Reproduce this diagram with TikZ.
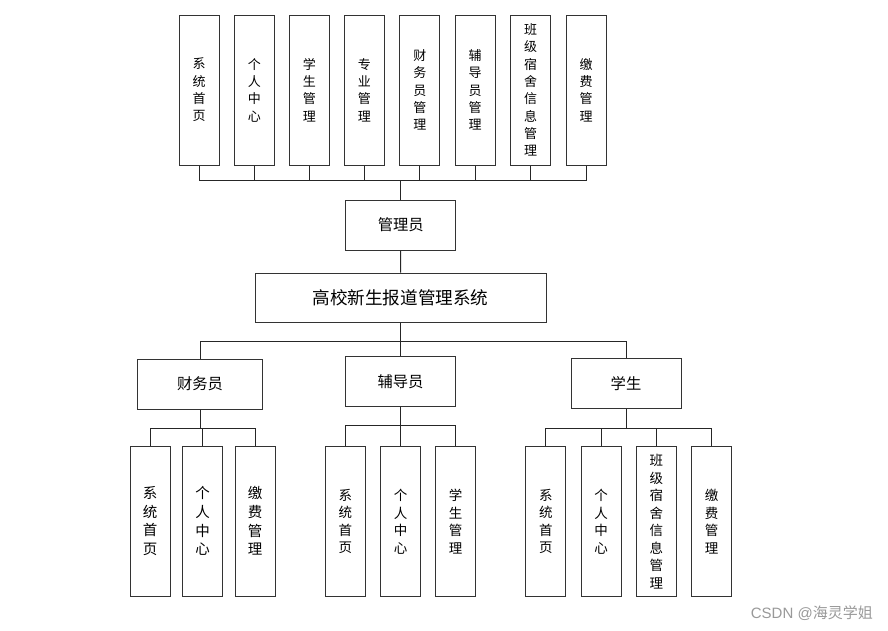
\documentclass[tikz,border=0pt]{standalone}
\usepackage{fontspec}
\newfontfamily\cjk{Noto Sans CJK SC}
\newfontfamily\wmfont{Liberation Sans}
\begin{document}
\begin{tikzpicture}[x=1pt,y=-1pt,
  box/.style={draw=black!80, line width=1pt, fill=white, inner sep=0pt, align=center},
  vbox/.style={box, minimum width=40pt, minimum height=150pt, font={\cjk\fontsize{13}{17.3}\selectfont}},
  vboxb/.style={box, minimum width=40pt, minimum height=150pt, font={\cjk\fontsize{13.5}{17.5}\selectfont}},
  vboxc/.style={box, minimum width=40pt, minimum height=150pt, font={\cjk\fontsize{14.5}{18.8}\selectfont}},
  rolebox/.style={box, minimum height=50pt, font={\cjk\fontsize{15.3}{18}\selectfont}},
  mainbox/.style={box, minimum width=291pt, minimum height=49pt, font={\cjk\fontsize{17.6}{20}\selectfont}},
  conn/.style={line width=1pt, black!85},
  wm/.style={text=black!40, inner sep=0pt, font={\fontsize{15}{18}\selectfont}}
]
\useasboundingbox[fill=white] (0,0) rectangle (888,630);

% top row
\node[vbox] (t1) at (199.2,90) {系\\统\\首\\页};
\node[vbox] (t2) at (254.4,90) {个\\人\\中\\心};
\node[vbox] (t3) at (309.4,90) {学\\生\\管\\理};
\node[vbox] (t4) at (364.4,90) {专\\业\\管\\理};
\node[vbox] (t5) at (419.8,90) {财\\务\\员\\管\\理};
\node[vbox] (t6) at (475.0,90) {辅\\导\\员\\管\\理};
\node[vbox] (t7) at (530.7,90) {班\\级\\宿\\舍\\信\\息\\管\\理};
\node[vbox] (t8) at (586.0,90) {缴\\费\\管\\理};

\node[rolebox, minimum width=110pt] (admin) at (400.7,225) {管理员};
\node[mainbox] (main) at (400.5,297.5) {高校新生报道管理系统};

\node[rolebox, minimum width=124.5pt] (r1) at (200.0,384) {财务员};
\node[rolebox, minimum width=110pt] (r2) at (400.5,381.3) {辅导员};
\node[rolebox, minimum width=110pt] (r3) at (626.0,383.5) {学生};

% bottom groups
\node[vboxc] (a1) at (150.0,521) {系\\统\\首\\页};
\node[vboxc] (a2) at (202.7,521) {个\\人\\中\\心};
\node[vboxc] (a3) at (255.2,521) {缴\\费\\管\\理};

\node[vboxb] (b1) at (345.4,521.5) {系\\统\\首\\页};
\node[vboxb] (b2) at (400.5,521.5) {个\\人\\中\\心};
\node[vboxb] (b3) at (455.5,521.5) {学\\生\\管\\理};

\node[vboxb] (c1) at (545.8,521.5) {系\\统\\首\\页};
\node[vboxb] (c2) at (601.0,521.5) {个\\人\\中\\心};
\node[vboxb] (c3) at (656.4,521.5) {班\\级\\宿\\舍\\信\\息\\管\\理};
\node[vboxb] (c4) at (711.5,521.5) {缴\\费\\管\\理};

% connectors
\foreach \t in {t1,t2,t3,t4,t5,t6,t7,t8}
  \draw[conn] (admin.north) -- ++(0,-19) -| (\t.south);
\draw[conn] (admin.south) -- (main.north);
\foreach \r in {r1,r2,r3}
  \draw[conn] (main.south) -- ++(0,19) -| (\r.north);
\foreach \c in {a1,a2,a3}
  \draw[conn] (r1.south) -- ++(0,19) -| (\c.north);
\foreach \c in {b1,b2,b3}
  \draw[conn] (r2.south) -- ++(0,19) -| (\c.north);
\foreach \c in {c1,c2,c3,c4}
  \draw[conn] (r3.south) -- ++(0,19) -| (\c.north);

\node[wm, anchor=east] (wmark) at (873,612.7) {\wmfont CSDN @\cjk 海灵学姐};
\end{tikzpicture}
\end{document}
